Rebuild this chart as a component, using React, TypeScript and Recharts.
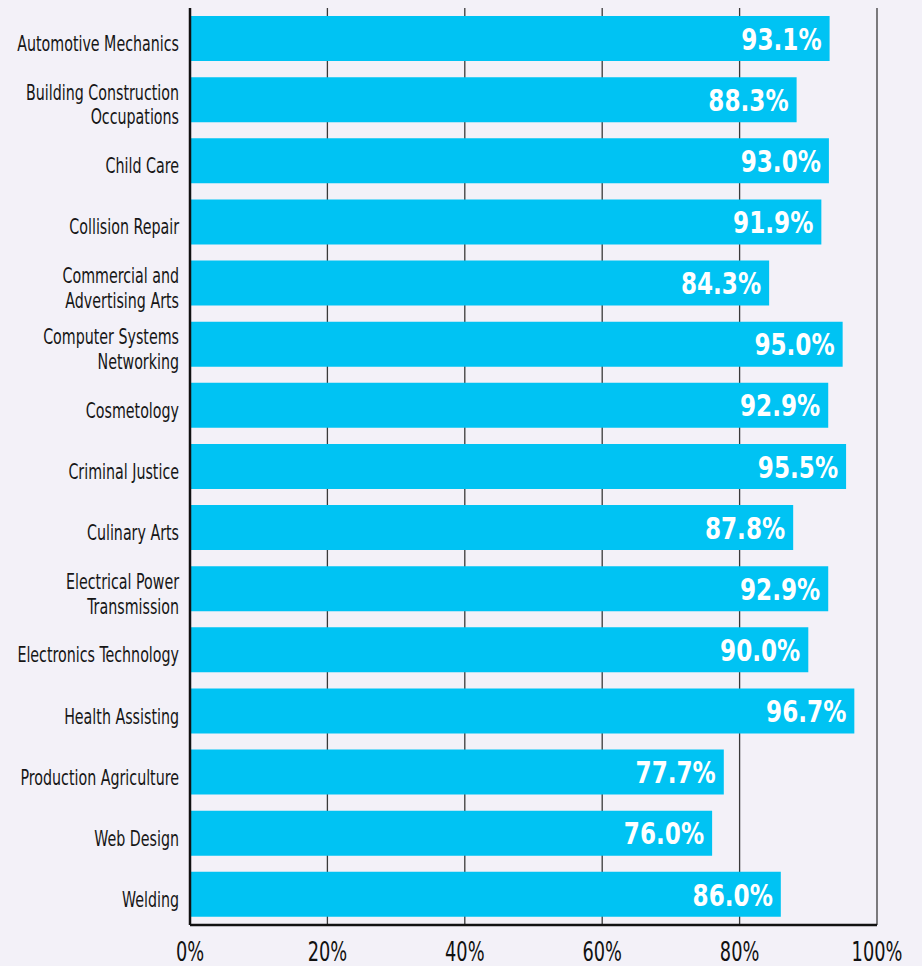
import React from 'react';
import { BarChart, Bar, XAxis, YAxis, CartesianGrid, LabelList } from 'recharts';

const programs = [
  'Automotive Mechanics',
  'Building Construction|Occupations',
  'Child Care',
  'Collision Repair',
  'Commercial and|Advertising Arts',
  'Computer Systems|Networking',
  'Cosmetology',
  'Criminal Justice',
  'Culinary Arts',
  'Electrical Power|Transmission',
  'Electronics Technology',
  'Health Assisting',
  'Production Agriculture',
  'Web Design',
  'Welding',
];
const rates = [93.1, 88.3, 93.0, 91.9, 84.3, 95.0, 92.9, 95.5, 87.8, 92.9, 90.0, 96.7, 77.7, 76.0, 86.0];
const xTicks = [0, 20, 40, 60, 80, 100];

const data = programs.map((name, i) => ({ name, rate: rates[i] }));

const FONT = '"DejaVu Sans Condensed", "DejaVu Sans", sans-serif';

// the original uses a very narrow typeface, so squeeze the text horizontally
function ProgramTick({ x, y, payload }: any) {
  const lines: string[] = String(payload.value).split('|');
  const lh = 24.5;
  const start = 12.5 - ((lines.length - 1) * lh) / 2;
  return (
    <g transform={`translate(${x},${y}) scale(0.72,1)`}>
      <text x={0} y={0} textAnchor="end" fill="#161616" fontSize={22} fontFamily={FONT}>
        {lines.map((l, i) => (
          <tspan key={i} x={0} y={start + i * lh}>
            {l}
          </tspan>
        ))}
      </text>
    </g>
  );
}

function PctTick({ x, y, payload }: any) {
  return (
    <g transform={`translate(${x},${y}) scale(0.76,1)`}>
      <text x={0} y={0} dy="0.71em" textAnchor="middle" fill="#111" fontSize={26} fontFamily={FONT}>
        {`${payload.value}%`}
      </text>
    </g>
  );
}

function ValueLabel({ x, y, width, height, value }: any) {
  const tx = Number(x) + Number(width) - 8;
  const ty = Number(y) + Number(height) / 2;
  return (
    <g transform={`translate(${tx},${ty}) scale(0.83,1)`}>
      <text x={0} y={0} dy="0.36em" textAnchor="end" fill="#ffffff" fontSize={31} fontWeight="bold" fontFamily={FONT}>
        {`${Number(value).toFixed(1)}%`}
      </text>
    </g>
  );
}

export default function App() {
  return (
    <div style={{ position: 'absolute', left: 0, top: 0, width: 922, height: 966, background: '#f3f1f8' }}>
      <BarChart
        width={922}
        height={966}
        data={data}
        layout="vertical"
        margin={{ top: 8, right: 45, left: 0, bottom: 0 }}
        barCategoryGap={8}
      >
        <CartesianGrid horizontal={false} stroke="#3a3a3a" strokeWidth={1.3} />
        <XAxis
          type="number"
          domain={[0, 100]}
          ticks={xTicks}
          height={41}
          axisLine={{ stroke: '#111', strokeWidth: 2.5 }}
          tickLine={false}
          tick={<PctTick />}
          tickMargin={12}
        />
        <YAxis
          type="category"
          dataKey="name"
          width={190}
          axisLine={{ stroke: '#111', strokeWidth: 2.5 }}
          tickLine={false}
          tick={<ProgramTick />}
          tickMargin={5}
          interval={0}
        />
        <Bar dataKey="rate" fill="#00c3f3" isAnimationActive={false}>
          <LabelList dataKey="rate" content={<ValueLabel />} />
        </Bar>
      </BarChart>
    </div>
  );
}
